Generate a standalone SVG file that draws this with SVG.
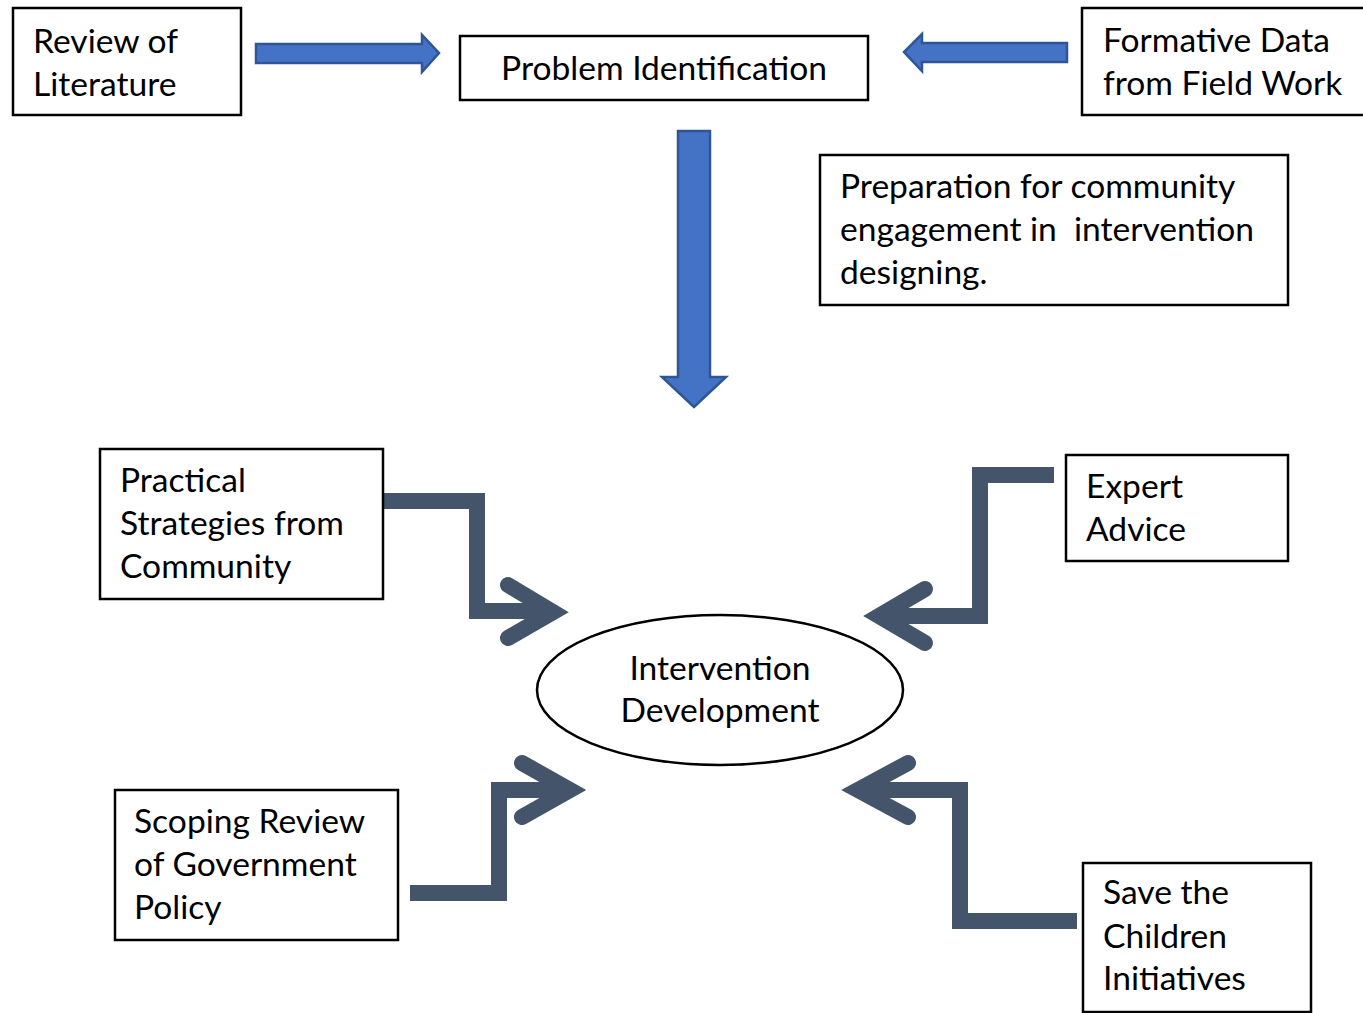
<svg xmlns="http://www.w3.org/2000/svg" width="1363" height="1013" viewBox="0 0 1363 1013">
<style>
  .box { fill: #ffffff; stroke: #000000; stroke-width: 2.5; }
  .lbl { font-family: Lato, "Open Sans", sans-serif; font-size: 33.6px; fill: #000000; white-space: pre; }
  .blue { fill: #4472C4; stroke: #2F5597; stroke-width: 2.5; stroke-linejoin: miter; }
  .elbow { fill: none; stroke: #44546A; stroke-width: 16; stroke-linejoin: miter; stroke-linecap: butt; }
  .head { fill: none; stroke: #44546A; stroke-width: 16; stroke-linejoin: miter; stroke-linecap: round; stroke-miterlimit: 6; }
</style>
<rect width="1363" height="1013" fill="#ffffff"/>
<g id="connectors">
  <polygon class="blue" points="256,44 422,44 422,35 439,53 422,72 422,63 256,63"/>
  <polygon class="blue" points="1067,43 922,43 922,34 904,52 922,71 922,62 1067,62"/>
  <polygon class="blue" points="678,131 710,131 710,377 726,377 694,407 662,377 678,377"/>
  <path class="elbow" d="M383,501 H477 V611 H552"/>
  <polyline class="head" points="508,585 553,612 508,638"/>
  <path class="elbow" d="M1054,475 H980 V616 H880"/>
  <polyline class="head" points="925,589 879,616 925,643"/>
  <path class="elbow" d="M410,893 H499 V790 H568"/>
  <polyline class="head" points="522,763 570,790 522,817"/>
  <path class="elbow" d="M1077,921 H960 V790 H860"/>
  <polyline class="head" points="908,763 858,790 908,817"/>
</g>
<g id="review">
  <rect class="box" x="13" y="8" width="228" height="107"/>
  <text class="lbl" x="33" y="53">Review of</text>
  <text class="lbl" x="33" y="96">Literature</text>
</g>
<g id="problem">
  <rect class="box" x="460" y="36" width="408" height="64"/>
  <text class="lbl" x="664" y="80" text-anchor="middle">Problem Identification</text>
</g>
<g id="formative">
  <rect class="box" x="1082" y="8" width="290" height="107"/>
  <text class="lbl" x="1103" y="52">Formative Data</text>
  <text class="lbl" x="1103" y="95">from Field Work</text>
</g>
<g id="preparation">
  <rect class="box" x="820" y="155" width="468" height="150"/>
  <text class="lbl" x="840" y="198">Preparation for community</text>
  <text class="lbl" x="840" y="241" xml:space="preserve">engagement in  intervention</text>
  <text class="lbl" x="840" y="284">designing.</text>
</g>
<g id="practical">
  <rect class="box" x="100" y="449" width="283" height="150"/>
  <text class="lbl" x="120" y="492">Practical</text>
  <text class="lbl" x="120" y="535">Strategies from</text>
  <text class="lbl" x="120" y="578">Community</text>
</g>
<g id="expert">
  <rect class="box" x="1066" y="455" width="222" height="106"/>
  <text class="lbl" x="1086" y="498">Expert</text>
  <text class="lbl" x="1086" y="541">Advice</text>
</g>
<g id="intervention">
  <ellipse class="box" cx="720" cy="690" rx="183" ry="75"/>
  <text class="lbl" x="720" y="680" text-anchor="middle">Intervention</text>
  <text class="lbl" x="720" y="722" text-anchor="middle">Development</text>
</g>
<g id="scoping">
  <rect class="box" x="115" y="790" width="283" height="150"/>
  <text class="lbl" x="134" y="833">Scoping Review</text>
  <text class="lbl" x="134" y="876">of Government</text>
  <text class="lbl" x="134" y="919">Policy</text>
</g>
<g id="save">
  <rect class="box" x="1083" y="863" width="228" height="149"/>
  <text class="lbl" x="1103" y="904">Save the</text>
  <text class="lbl" x="1103" y="948">Children</text>
  <text class="lbl" x="1103" y="990">Initiatives</text>
</g>
</svg>
